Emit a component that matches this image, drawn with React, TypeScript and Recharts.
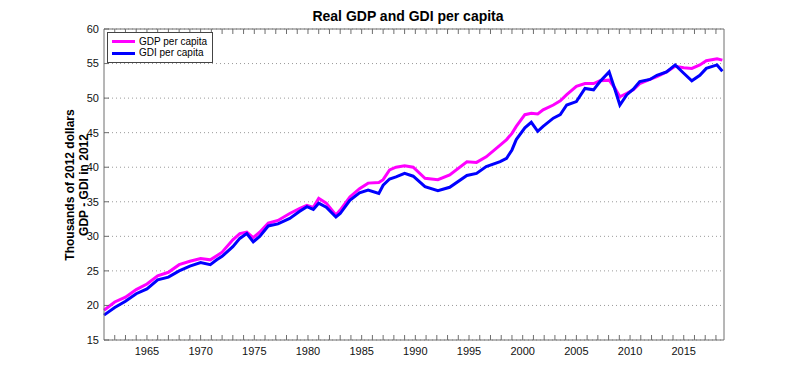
import React from "react";
import {
  LineChart,
  Line,
  XAxis,
  YAxis,
  CartesianGrid,
  Legend,
} from "recharts";

// quarter-ish readings (thousands of 2012 dollars)
const years = [
  1961.0, 1962.0, 1963.0, 1964.0, 1965.0, 1966.0, 1967.0, 1968.0, 1969.0, 1970.0,
  1970.9, 1971.5, 1972.0, 1973.0, 1973.65, 1974.3, 1974.9, 1975.5, 1976.3, 1977.2,
  1978.3, 1979.2, 1979.9, 1980.5, 1981.0, 1981.7, 1982.6, 1983.0, 1983.9, 1984.8,
  1985.6, 1986.6, 1987.0, 1987.6, 1988.2, 1989.0, 1989.8, 1990.9, 1992.1, 1993.2,
  1994.8, 1995.7, 1996.6, 1997.9, 1998.5, 1999.0, 1999.4, 2000.2, 2000.8, 2001.4,
  2001.9, 2002.85, 2003.5, 2004.1, 2005.0, 2005.8, 2006.6, 2007.2, 2008.05, 2008.6,
  2009.05, 2009.7, 2010.3, 2010.9, 2011.85, 2012.5, 2013.4, 2014.2, 2015.0, 2015.75,
  2016.5, 2017.1, 2018.1, 2018.6,
];

const gdpPerCapita = [
  19.3, 20.5, 21.2, 22.3, 23.1, 24.3, 24.8, 25.9, 26.4, 26.8,
  26.6, 27.2, 27.7, 29.5, 30.4, 30.6, 29.8, 30.6, 31.9, 32.3,
  33.3, 34.0, 34.5, 34.2, 35.5, 34.8, 33.1, 33.8, 35.7, 36.9,
  37.7, 37.8, 38.2, 39.6, 40.0, 40.2, 40.0, 38.4, 38.2, 38.9,
  40.8, 40.7, 41.5, 43.2, 44.0, 44.9, 45.9, 47.6, 47.8, 47.7,
  48.3, 49.0, 49.6, 50.5, 51.7, 52.1, 52.1, 52.5, 52.6, 51.4,
  50.2, 50.7, 51.2, 52.1, 52.7, 53.1, 53.8, 54.6, 54.4, 54.3,
  54.8, 55.4, 55.7, 55.5,
];

const gdiPerCapita = [
  18.6, 19.7, 20.6, 21.7, 22.4, 23.7, 24.1, 25.0, 25.7, 26.2,
  25.9, 26.6, 27.1, 28.5, 29.7, 30.4, 29.2, 30.0, 31.5, 31.8,
  32.6, 33.6, 34.3, 33.9, 34.8, 34.2, 32.8, 33.3, 35.2, 36.3,
  36.7, 36.2, 37.4, 38.3, 38.6, 39.1, 38.7, 37.2, 36.6, 37.1,
  38.8, 39.1, 40.1, 40.8, 41.3, 42.5, 44.0, 45.7, 46.5, 45.2,
  45.9, 47.1, 47.6, 49.0, 49.5, 51.4, 51.2, 52.4, 53.8, 51.2,
  49.0, 50.5, 51.3, 52.4, 52.7, 53.3, 53.8, 54.8, 53.6, 52.5,
  53.3, 54.3, 54.8, 53.9,
];

const yTicks = [15, 20, 25, 30, 35, 40, 45, 50, 55, 60];
const xLabelYears = [1965, 1970, 1975, 1980, 1985, 1990, 1995, 2000, 2005, 2010, 2015];
const xTicks = Array.from({ length: 57 }, (_, i) => 1962 + i);
const legendOrder = ["gdp", "gdi"];

const data = years.map((year, i) => ({
  year,
  gdp: gdpPerCapita[i],
  gdi: gdiPerCapita[i],
}));

const FONT = "'Liberation Sans', Arial, Helvetica, sans-serif";
const AXIS = "#6e6e6e";
const TICK_LEN = 5;

function BottomTick({ x, y, payload }: any) {
  const show = xLabelYears.includes(payload.value);
  return (
    <g>
      <line x1={x} y1={y} x2={x} y2={y - TICK_LEN} stroke={AXIS} />
      {show && (
        <text x={x} y={y + 15} textAnchor="middle" fontSize={11} fontFamily={FONT} fill="#111">
          {payload.value}
        </text>
      )}
    </g>
  );
}

function TopTick({ x, y }: any) {
  return <line x1={x} y1={y} x2={x} y2={y + TICK_LEN} stroke={AXIS} />;
}

function LeftTick({ x, y, payload }: any) {
  return (
    <g>
      <line x1={x} y1={y} x2={x + TICK_LEN} y2={y} stroke={AXIS} />
      <text x={x - 5} y={y} dy="0.35em" textAnchor="end" fontSize={11} fontFamily={FONT} fill="#111">
        {payload.value}
      </text>
    </g>
  );
}

function RightTick({ x, y }: any) {
  return <line x1={x} y1={y} x2={x - TICK_LEN} y2={y} stroke={AXIS} />;
}

function LegendBox({ payload }: any) {
  const items = [...(payload || [])].sort(
    (a: any, b: any) => legendOrder.indexOf(a.dataKey) - legendOrder.indexOf(b.dataKey)
  );
  return (
    <div
      style={{
        border: "1px solid #444",
        background: "#fff",
        padding: "3px 5px 3px 4px",
        fontFamily: FONT,
        fontSize: 10,
        lineHeight: "12px",
        color: "#000",
        whiteSpace: "nowrap",
        display: "inline-block",
      }}
    >
      {items.map((p: any) => (
        <div key={p.value} style={{ display: "flex", alignItems: "center", height: 11.5 }}>
          <span
            style={{
              display: "inline-block",
              width: 23,
              height: 3,
              background: p.color,
              marginRight: 4,
            }}
          />
          {p.value}
        </div>
      ))}
    </div>
  );
}

export default function App() {
  return (
    <div style={{ position: "relative", width: 792, height: 374 }}>
      <LineChart
        width={792}
        height={374}
        data={data}
        margin={{ top: 20, right: 75, bottom: 12, left: 0 }}
      >
        <CartesianGrid
          horizontal
          vertical={false}
          stroke="#9a9a9a"
          strokeDasharray="1 3"
        />
        <XAxis
          dataKey="year"
          type="number"
          domain={[1961, 2018.75]}
          ticks={xTicks}
          interval={0}
          height={30}
          tickSize={0}
          tickMargin={0}
          tickLine={false}
          stroke={AXIS}
          tick={<BottomTick />}
        />
        <XAxis
          xAxisId="top"
          orientation="top"
          dataKey="year"
          type="number"
          domain={[1961, 2018.75]}
          ticks={xTicks}
          interval={0}
          height={1}
          tickSize={0}
          tickMargin={0}
          tickLine={false}
          stroke={AXIS}
          tick={<TopTick />}
        />
        <YAxis
          domain={[15, 60]}
          ticks={yTicks}
          interval={0}
          width={96}
          tickSize={0}
          tickMargin={0}
          tickLine={false}
          stroke={AXIS}
          tick={<LeftTick />}
        />
        <YAxis
          yAxisId="right"
          orientation="right"
          domain={[15, 60]}
          ticks={yTicks}
          interval={0}
          width={1}
          tickSize={0}
          tickMargin={0}
          tickLine={false}
          stroke={AXIS}
          tick={<RightTick />}
        />
        <Legend
          layout="vertical"
          align="center"
          verticalAlign="middle"
          content={<LegendBox />}
          wrapperStyle={{ left: 99, top: 24, width: "auto" }}
        />
        <Line
          type="linear"
          dataKey="gdp"
          name="GDP per capita"
          stroke="#ff00ff"
          strokeWidth={3}
          dot={false}
          isAnimationActive={false}
        />
        <Line
          type="linear"
          dataKey="gdi"
          name="GDI per capita"
          stroke="#0000ff"
          strokeWidth={3}
          dot={false}
          isAnimationActive={false}
        />
      </LineChart>
      <svg
        width={792}
        height={374}
        style={{ position: "absolute", left: 0, top: 0, pointerEvents: "none" }}
      >
        <text x={400} y={13} textAnchor="middle" fontFamily={FONT} fontWeight="bold" fontSize={14}>
          Real GDP and GDI per capita
        </text>
        <text
          transform="translate(66,177) rotate(-90)"
          textAnchor="middle"
          fontFamily={FONT}
          fontWeight="bold"
          fontSize={12}
        >
          Thousands of 2012 dollars
        </text>
        <text
          transform="translate(80,177) rotate(-90)"
          textAnchor="middle"
          fontFamily={FONT}
          fontWeight="bold"
          fontSize={12}
        >
          GDP - GDI in 2012
        </text>
      </svg>
    </div>
  );
}
